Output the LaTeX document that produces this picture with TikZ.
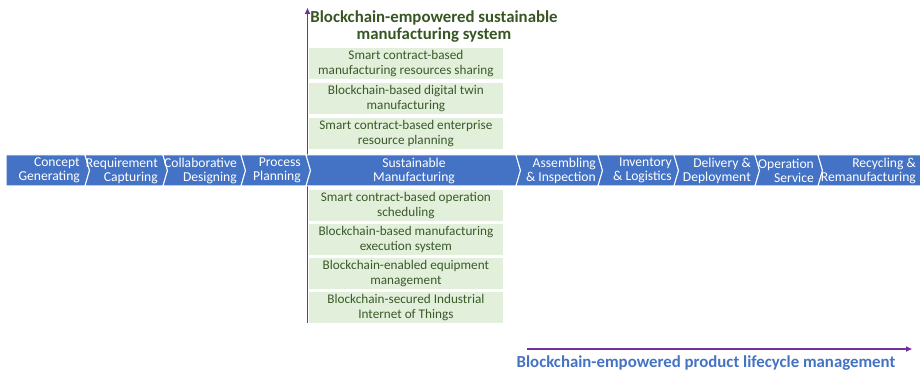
\documentclass[tikz,border=0pt]{standalone}
\usepackage{fontspec}
\setmainfont{Carlito}
\usetikzlibrary{arrows.meta}
\definecolor{chevblue}{HTML}{4472C4}
\definecolor{boxgreen}{HTML}{E2EFDA}
\definecolor{txtgreen}{HTML}{3A5A2A}
\definecolor{ttlgreen}{HTML}{375623}
\definecolor{arrpurple}{HTML}{7030A0}
\definecolor{ttlblue}{HTML}{4472C4}
\tikzset{
  chev/.style={fill=chevblue, draw=white, line width=1pt},
  chevtext/.style={text=white, font=\fontsize{13.6}{14}\selectfont, align=right, inner sep=0pt, anchor=east},
  gbox/.style={fill=boxgreen, draw=white, line width=0.8pt, minimum width=195pt, minimum height=32pt, inner sep=0pt,
    text=txtgreen, font=\fontsize{13.2}{14.5}\selectfont, align=center, anchor=north west},
  purplearrow/.style={draw=arrpurple, line width=1.8pt, -{Triangle[length=6pt,width=5pt]}},
}
\begin{document}
\begin{tikzpicture}[x=1pt,y=-1pt]
\useasboundingbox (0,0) rectangle (920,374);
% axes
\coordinate (vbot) at (307.5,323);
\coordinate (vtop) at (307.5,8);
\draw[purplearrow] (vbot) -- (vtop);
\coordinate (hl) at (527,349);
\coordinate (hr) at (912,349);
\draw[purplearrow] (hl) -- (hr);
% chevrons
\newcommand{\chevron}[2]{\path[chev] (#1,155) -- (#2,155) -- (#2+4.5,170.5) -- (#2,186) -- (#1,186) -- (#1+4.5,170.5) -- cycle;}
\path[chev] (6,155) -- (85,155) -- (89.5,170.5) -- (85,186) -- (6,186) -- cycle;
\chevron{85}{163}
\chevron{163}{241}
\chevron{241}{306}
\chevron{306}{516}
\chevron{516}{598}
\chevron{598}{674}
\chevron{674}{755}
\chevron{755}{818}
\path[chev] (818,155) -- (921,155) -- (921,186) -- (818,186) -- (822.5,170.5) -- cycle;
\node[chevtext] (c1) at (80,170.5) {Concept\\Generating};
\node[chevtext] (c2) at (158,170.5) {Requirement\\Capturing};
\node[chevtext] (c3) at (237,170.5) {Collaborative\\Designing};
\node[chevtext] (c4) at (301,170.5) {Process\\Planning};
\node[chevtext, anchor=center, align=center] (c5) at (414,170.5) {Sustainable\\Manufacturing};
\node[chevtext] (c6) at (596,170.5) {Assembling\\\&~Inspection};
\node[chevtext] (c7) at (672,170.5) {Inventory\\\&~Logistics};
\node[chevtext] (c8) at (751,170.5) {Delivery~\&\\Deployment};
\node[chevtext] (c9) at (814,170.5) {Operation\\Service};
\node[chevtext] (c10) at (916,170.5) {Recycling~\&\\Remanufacturing};
% green boxes
\node[gbox] (g1) at (308,47) {Smart contract-based\\manufacturing resources sharing};
\node[gbox] (g2) at (308,82) {Blockchain-based digital twin\\manufacturing};
\node[gbox] (g3) at (308,117) {Smart contract-based enterprise\\resource planning};
\node[gbox] (g4) at (308,189) {Smart contract-based operation\\scheduling};
\node[gbox] (g5) at (308,223) {Blockchain-based manufacturing\\execution system};
\node[gbox] (g6) at (308,257) {Blockchain-enabled equipment\\management};
\node[gbox] (g7) at (308,291) {Blockchain-secured Industrial\\Internet of Things};
% titles
\node[text=ttlgreen, font=\bfseries\fontsize{16.8}{17}\selectfont, align=center, inner sep=0pt] (t1) at (434,26.5) {Blockchain-empowered sustainable\\manufacturing system};
\node[text=ttlblue, font=\bfseries\fontsize{16.8}{17}\selectfont, inner sep=0pt] (t2) at (706,363) {Blockchain-empowered product lifecycle management};
\end{tikzpicture}
\end{document}
